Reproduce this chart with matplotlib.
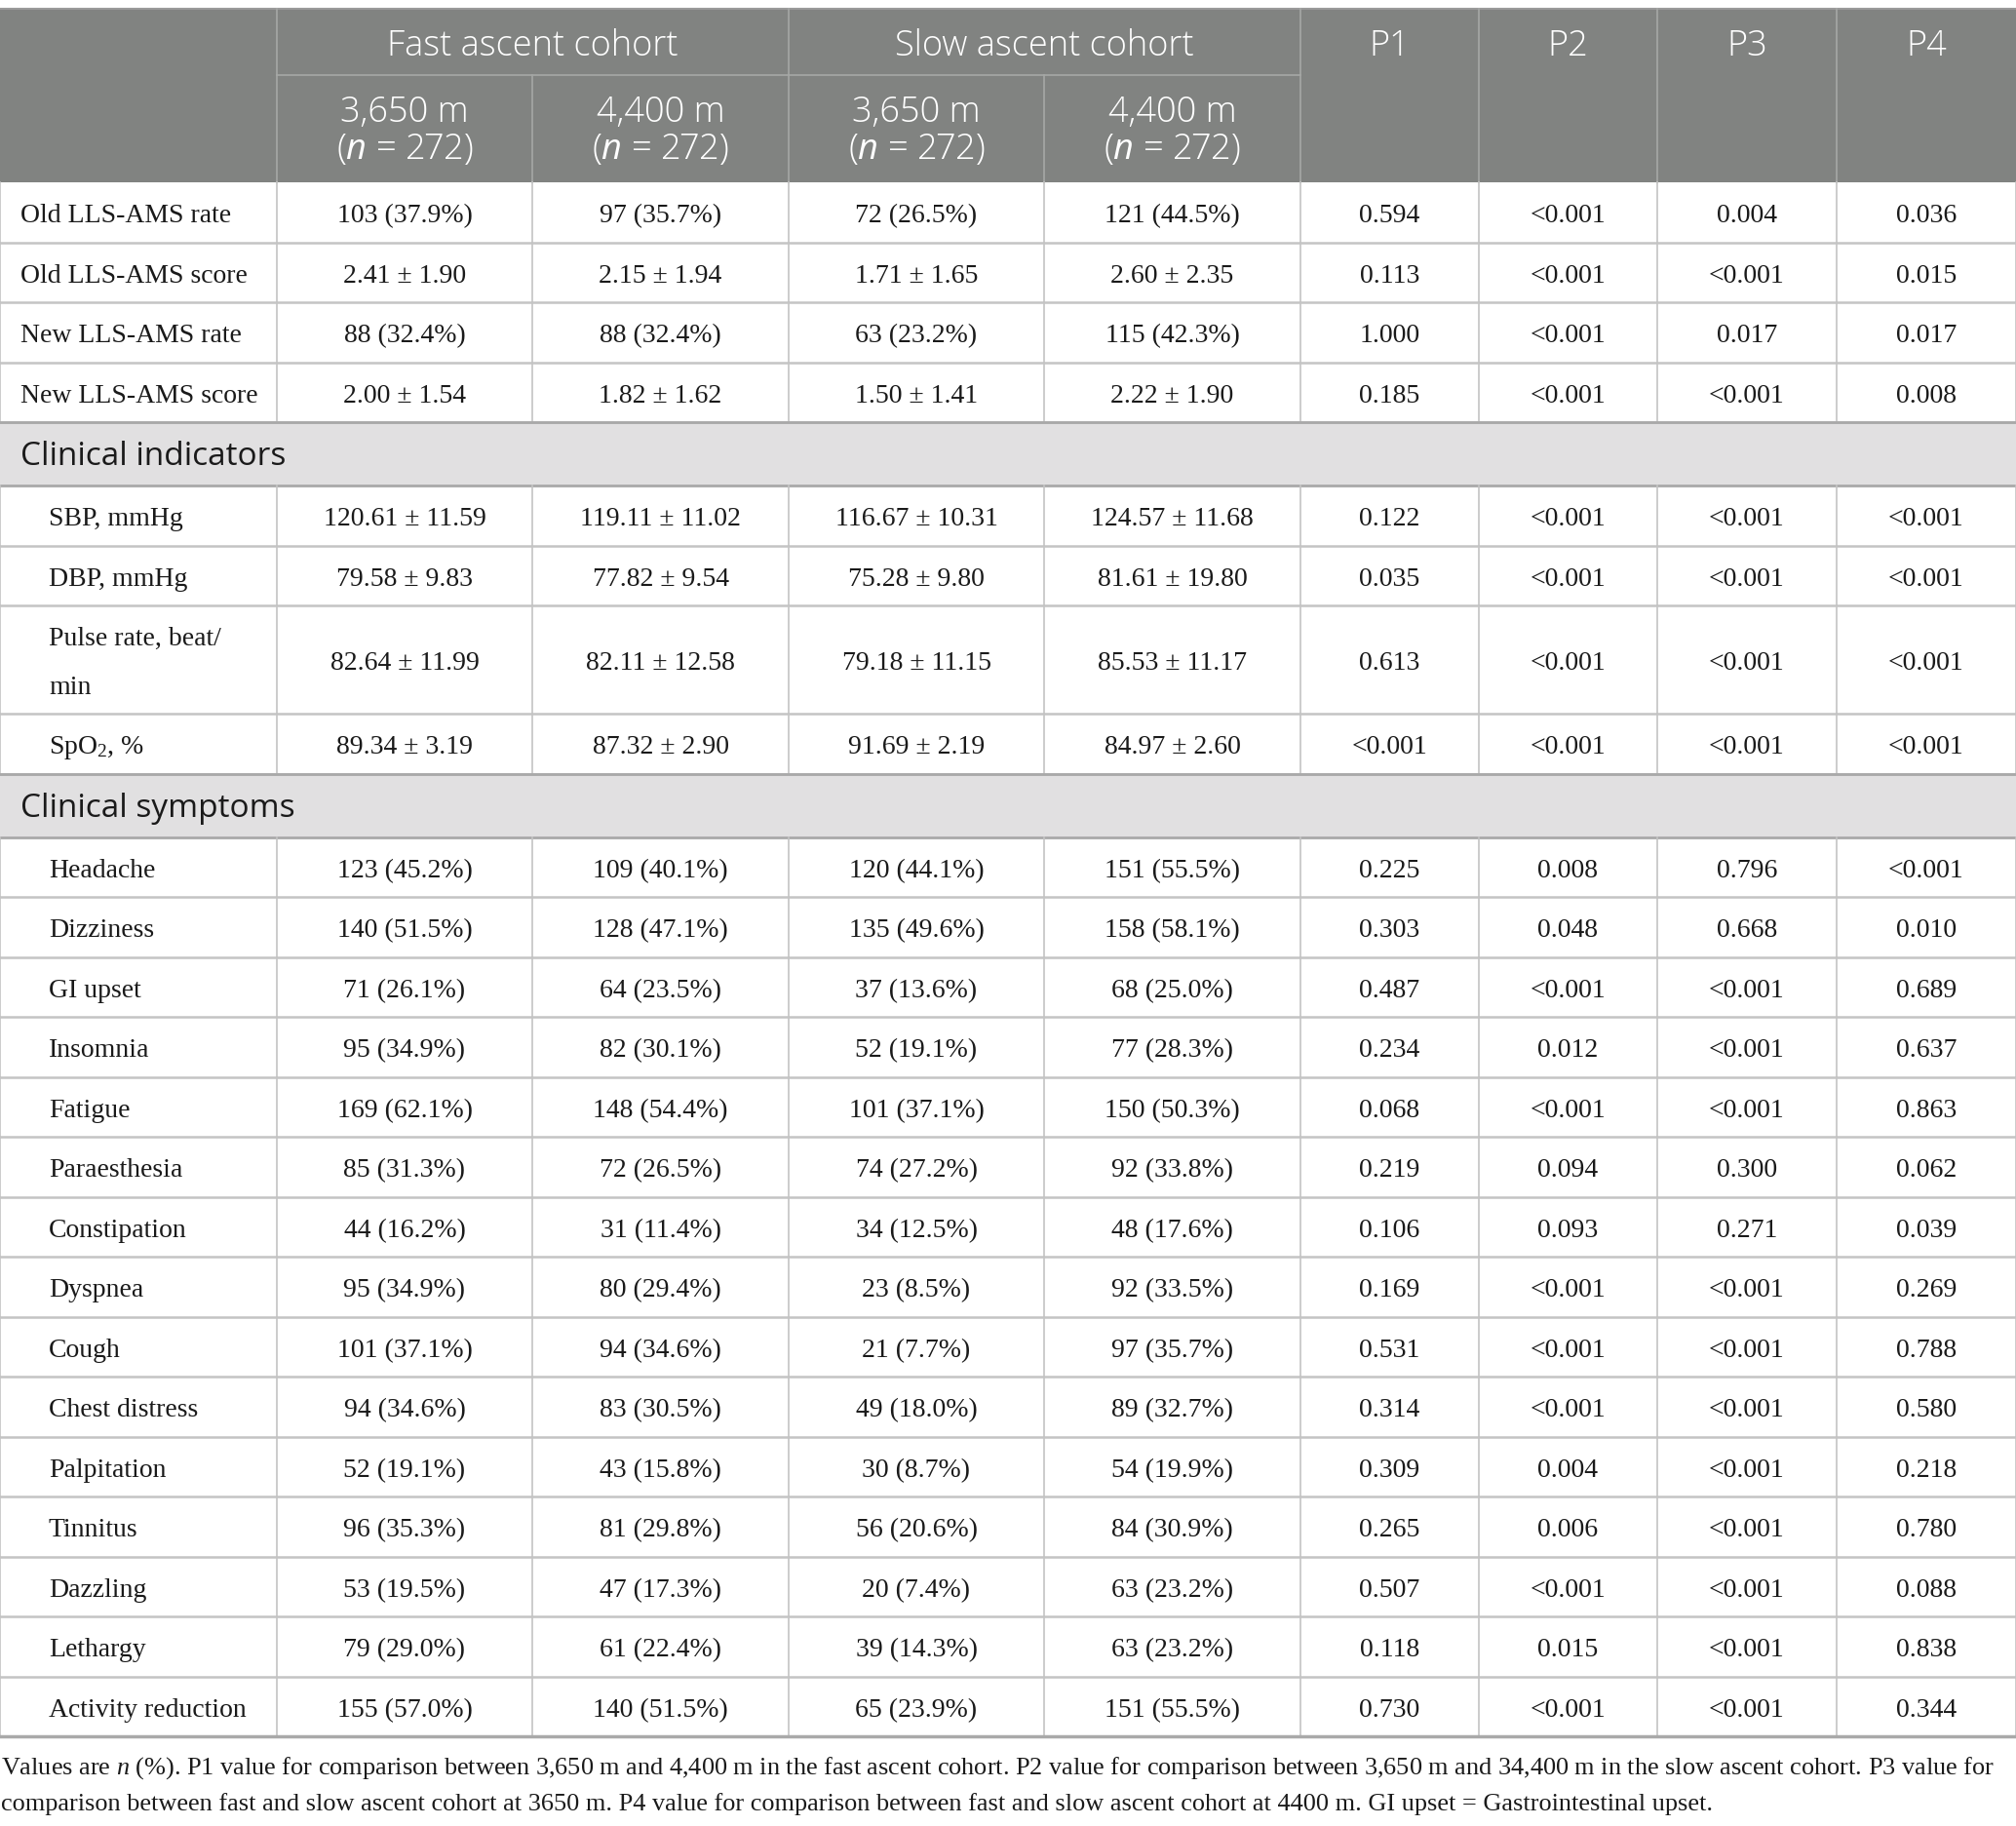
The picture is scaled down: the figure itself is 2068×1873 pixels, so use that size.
import matplotlib
matplotlib.use("Agg")
import matplotlib.pyplot as plt
from matplotlib.patches import Rectangle

plt.rcParams['mathtext.fontset'] = 'custom'
plt.rcParams['mathtext.rm'] = 'Liberation Serif'
plt.rcParams['mathtext.it'] = 'Liberation Serif:italic'
plt.rcParams['mathtext.sf'] = 'Open Sans:italic'

# ---- table content ----
top_labels = ["Old LLS-AMS rate", "Old LLS-AMS score", "New LLS-AMS rate", "New LLS-AMS score"]
indicator_labels = ["SBP, mmHg", "DBP, mmHg", "Pulse rate, beat/\nmin", r"SpO$_\mathrm{2}$, %"]
symptom_labels = ["Headache", "Dizziness", "GI upset", "Insomnia", "Fatigue", "Paraesthesia",
                  "Constipation", "Dyspnea", "Cough", "Chest distress", "Palpitation",
                  "Tinnitus", "Dazzling", "Lethargy", "Activity reduction"]
sections = ["Clinical indicators", "Clinical symptoms"]

group_headers = ["Fast ascent cohort", "Slow ascent cohort"]
sub_headers = ["3,650 m", "4,400 m", "3,650 m", "4,400 m"]
sub_n = [r"($\mathsf{n}$ = 272)"] * 4
p_headers = ["P1", "P2", "P3", "P4"]

fast_3650 = ["103 (37.9%)", "2.41 ± 1.90", "88 (32.4%)", "2.00 ± 1.54",
             "120.61 ± 11.59", "79.58 ± 9.83", "82.64 ± 11.99", "89.34 ± 3.19",
             "123 (45.2%)", "140 (51.5%)", "71 (26.1%)", "95 (34.9%)", "169 (62.1%)",
             "85 (31.3%)", "44 (16.2%)", "95 (34.9%)", "101 (37.1%)", "94 (34.6%)",
             "52 (19.1%)", "96 (35.3%)", "53 (19.5%)", "79 (29.0%)", "155 (57.0%)"]
fast_4400 = ["97 (35.7%)", "2.15 ± 1.94", "88 (32.4%)", "1.82 ± 1.62",
             "119.11 ± 11.02", "77.82 ± 9.54", "82.11 ± 12.58", "87.32 ± 2.90",
             "109 (40.1%)", "128 (47.1%)", "64 (23.5%)", "82 (30.1%)", "148 (54.4%)",
             "72 (26.5%)", "31 (11.4%)", "80 (29.4%)", "94 (34.6%)", "83 (30.5%)",
             "43 (15.8%)", "81 (29.8%)", "47 (17.3%)", "61 (22.4%)", "140 (51.5%)"]
slow_3650 = ["72 (26.5%)", "1.71 ± 1.65", "63 (23.2%)", "1.50 ± 1.41",
             "116.67 ± 10.31", "75.28 ± 9.80", "79.18 ± 11.15", "91.69 ± 2.19",
             "120 (44.1%)", "135 (49.6%)", "37 (13.6%)", "52 (19.1%)", "101 (37.1%)",
             "74 (27.2%)", "34 (12.5%)", "23 (8.5%)", "21 (7.7%)", "49 (18.0%)",
             "30 (8.7%)", "56 (20.6%)", "20 (7.4%)", "39 (14.3%)", "65 (23.9%)"]
slow_4400 = ["121 (44.5%)", "2.60 ± 2.35", "115 (42.3%)", "2.22 ± 1.90",
             "124.57 ± 11.68", "81.61 ± 19.80", "85.53 ± 11.17", "84.97 ± 2.60",
             "151 (55.5%)", "158 (58.1%)", "68 (25.0%)", "77 (28.3%)", "150 (50.3%)",
             "92 (33.8%)", "48 (17.6%)", "92 (33.5%)", "97 (35.7%)", "89 (32.7%)",
             "54 (19.9%)", "84 (30.9%)", "63 (23.2%)", "63 (23.2%)", "151 (55.5%)"]
p1 = ["0.594", "0.113", "1.000", "0.185", "0.122", "0.035", "0.613", "<0.001",
      "0.225", "0.303", "0.487", "0.234", "0.068", "0.219", "0.106", "0.169",
      "0.531", "0.314", "0.309", "0.265", "0.507", "0.118", "0.730"]
p2 = ["<0.001", "<0.001", "<0.001", "<0.001", "<0.001", "<0.001", "<0.001", "<0.001",
      "0.008", "0.048", "<0.001", "0.012", "<0.001", "0.094", "0.093", "<0.001",
      "<0.001", "<0.001", "0.004", "0.006", "<0.001", "0.015", "<0.001"]
p3 = ["0.004", "<0.001", "0.017", "<0.001", "<0.001", "<0.001", "<0.001", "<0.001",
      "0.796", "0.668", "<0.001", "<0.001", "<0.001", "0.300", "0.271", "<0.001",
      "<0.001", "<0.001", "<0.001", "<0.001", "<0.001", "<0.001", "<0.001"]
p4 = ["0.036", "0.015", "0.017", "0.008", "<0.001", "<0.001", "<0.001", "<0.001",
      "<0.001", "0.010", "0.689", "0.637", "0.863", "0.062", "0.039", "0.269",
      "0.788", "0.580", "0.218", "0.780", "0.088", "0.838", "0.344"]

footnote = [r"Values are $\mathit{n}$ (%). P1 value for comparison between 3,650 m and 4,400 m in the fast ascent cohort. "
            "P2 value for comparison between 3,650 m and 34,400 m in the slow ascent cohort. P3 value for",
            "comparison between fast and slow ascent cohort at 3650 m. P4 value for comparison between fast "
            "and slow ascent cohort at 4400 m. GI upset = Gastrointestinal upset."]

# ---- layout (pixels) ----
W, H = 2068, 1873
col_x = [0, 284, 546, 809, 1071, 1334, 1517, 1700, 1884, 2068]
head_top, head_mid, head_bot = 9, 77, 187
row_h, band_h, pulse_h = 61.5, 65, 111

HEAD_BG = "#818381"
HEAD_LINE = "#a6a8a6"
BAND_BG = "#e1e0e1"
GRID = "#c4c4c4"
BAND_LINE = "#a9a9a9"
TXT = "#1a1a1a"
SERIF = ["Liberation Serif", "DejaVu Serif"]
SANS = ["Open Sans", "DejaVu Sans"]

fig = plt.figure(figsize=(W / 100, H / 100), dpi=100)
ax = fig.add_axes([0, 0, 1, 1])
ax.set_xlim(0, W)
ax.set_ylim(H, 0)
ax.axis("off")

# header block
ax.add_patch(Rectangle((0, head_top), W, head_bot - head_top, color=HEAD_BG, lw=0))
ax.plot([0, W], [head_top, head_top], color="#9a9a9a", lw=1.5)
for x in [284, 809, 1334, 1517, 1700, 1884]:
    ax.plot([x, x], [head_top, head_bot], color=HEAD_LINE, lw=1.2)
for x in [546, 1071]:
    ax.plot([x, x], [head_mid, head_bot], color=HEAD_LINE, lw=1.2)
ax.plot([284, 1334], [head_mid, head_mid], color=HEAD_LINE, lw=1.2)

hdr = dict(ha="center", va="baseline", family=SANS, fontsize=26, color="white", fontweight="light")
for i, g in enumerate(group_headers):
    cx = (col_x[1 + 2 * i] + col_x[3 + 2 * i]) / 2
    ax.text(cx, 57, g, **hdr)
for i, p in enumerate(p_headers):
    cx = (col_x[5 + i] + col_x[6 + i]) / 2
    ax.text(cx, 57, p, **hdr)
for i in range(4):
    cx = (col_x[1 + i] + col_x[2 + i]) / 2
    ax.text(cx, 125, sub_headers[i], **hdr)
    ax.text(cx, 163, sub_n[i], **hdr)

# body rows
columns = [fast_3650, fast_4400, slow_3650, slow_4400, p1, p2, p3, p4]
blocks = [(None, top_labels, 21), (sections[0], indicator_labels, 50), (sections[1], symptom_labels, 50)]
body = dict(va="baseline", family=SERIF, fontsize=20, color=TXT)

y = head_bot
k = 0
for title, labels, indent in blocks:
    if title is not None:
        ax.add_patch(Rectangle((0, y), W, band_h, color=BAND_BG, lw=0))
        ax.plot([0, W], [y, y], color=BAND_LINE, lw=2)
        ax.plot([0, W], [y + band_h, y + band_h], color=BAND_LINE, lw=2)
        ax.text(21, y + band_h / 2 + 11.5, title, ha="left", va="baseline",
                family=SANS, fontsize=24, color=TXT)
        y += band_h
    for lab in labels:
        h = pulse_h if "\n" in lab else row_h
        mid = y + h / 2
        if "\n" in lab:
            l1, l2 = lab.split("\n")
            ax.text(indent, mid - 14.5, l1, ha="left", **body)
            ax.text(indent, mid + 35.5, l2, ha="left", **body)
        else:
            ax.text(indent, mid + 10.5, lab, ha="left", **body)
        for j, col in enumerate(columns):
            cx = (col_x[1 + j] + col_x[2 + j]) / 2
            ax.text(cx, mid + 10.5, col[k], ha="center", **body)
        for x in col_x:
            ax.plot([x, x], [y, y + h], color=GRID, lw=1.2)
        y += h
        if k < len(p1) - 1:
            ax.plot([0, W], [y, y], color=GRID, lw=1.8)
        k += 1
ax.plot([0, W], [y, y], color=BAND_LINE, lw=2.5)

# footnote
ax.text(1, 1820, footnote[0], ha="left", va="baseline", family=SERIF, fontsize=18.9, color=TXT)
ax.text(1, 1857, footnote[1], ha="left", va="baseline", family=SERIF, fontsize=18.9, color=TXT)

fig.savefig("out.png", dpi=100, facecolor="white")
